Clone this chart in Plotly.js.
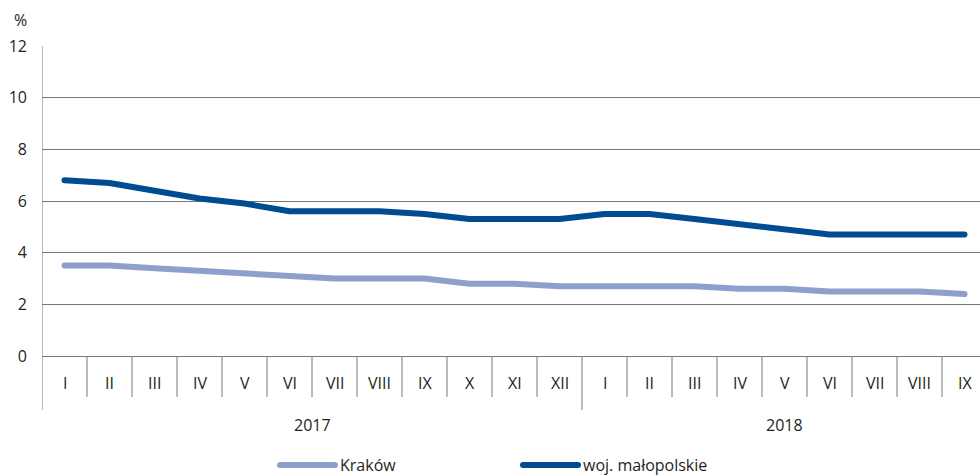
<!DOCTYPE html>
<html>
<head>
<meta charset="utf-8">
<script src="https://cdn.plot.ly/plotly-3.0.1.min.js"></script>
<style>
  html, body { margin: 0; padding: 0; background: #fff; }
  #chart { width: 980px; height: 475px; }
  .js-line, .legendlines path { stroke-linecap: round !important; stroke-linejoin: round !important; }
</style>
</head>
<body>
<div id="chart"></div>
<script>
const months = ["I","II","III","IV","V","VI","VII","VIII","IX","X","XI","XII",
                "I","II","III","IV","V","VI","VII","VIII","IX"];
const years = ["2017", "2018"];
const yearCounts = [12, 9];
const krakow = [3.5,3.5,3.4,3.3,3.2,3.1,3.0,3.0,3.0,2.8,2.8,2.7,
                2.7,2.7,2.7,2.6,2.6,2.5,2.5,2.5,2.4];
const malopolskie = [6.8,6.7,6.4,6.1,5.9,5.6,5.6,5.6,5.5,5.3,5.3,5.3,
                     5.5,5.5,5.3,5.1,4.9,4.7,4.7,4.7,4.7];
const seriesNames = ["Kraków", "woj. małopolskie"];
const yTicks = [0,2,4,6,8,10,12];

const W = 980, H = 475;
const mL = 42, mR = 0, mT = 46, mB = 119;
const plotH = H - mT - mB;
const plotW = W - mL - mR;
const catW = 45;
const idx = months.map((_, i) => i);
const px2py = p => (H - mB - p) / plotH;   // pixel y -> paper y

const textColor = "#231f20";
const gridColor = "#767676";
const font = { family: "Open Sans, sans-serif", size: 16, color: textColor };

const traces = [
  { x: idx, y: krakow, name: seriesNames[0], mode: "lines",
    line: { color: "#8e9fcc", width: 6 } },
  { x: idx, y: malopolskie, name: seriesNames[1], mode: "lines",
    line: { color: "#004c93", width: 6 } }
];

const shapes = [];
const annotations = [];
let boundaries = [0];
let acc = 0;
yearCounts.forEach(c => { acc += c; boundaries.push(acc); });
for (let i = 0; i <= months.length; i++) {
  const isYear = boundaries.includes(i) && i < months.length;
  shapes.push({ type: "line", xref: "x", yref: "paper",
    x0: i - 0.5, x1: i - 0.5, y0: i === 0 ? 1 : 0,
    y1: isYear ? px2py(410) : px2py(397),
    line: { color: gridColor, width: 1 }, layer: "below" });
}
months.forEach((m, i) => annotations.push({
  x: i, y: px2py(383), xref: "x", yref: "paper", text: m, showarrow: false,
  xanchor: "center", yanchor: "middle", font: font }));
let start = 0;
years.forEach((yr, k) => {
  const c = yearCounts[k];
  annotations.push({ x: start + (c - 1) / 2, y: px2py(425), xref: "x", yref: "paper",
    text: yr, showarrow: false, xanchor: "center", yanchor: "middle", font: font });
  start += c;
});
annotations.push({ x: (20 - mL) / plotW, y: px2py(20), xref: "paper", yref: "paper",
  text: "%", showarrow: false, xanchor: "center", yanchor: "middle", font: font });

const layout = {
  width: W, height: H,
  margin: { l: mL, r: mR, t: mT, b: mB, pad: 0, autoexpand: false },
  paper_bgcolor: "#fff", plot_bgcolor: "#fff",
  font: font,
  showlegend: true,
  legend: { orientation: "h", x: (275 - mL) / plotW, xanchor: "left",
            y: px2py(465), yanchor: "middle", entrywidth: 173, itemwidth: 55,
            font: font, bgcolor: "rgba(0,0,0,0)" },
  xaxis: { range: [-0.5, -0.5 + plotW / catW], showgrid: false, zeroline: false,
           showticklabels: false, ticks: "", showline: false, fixedrange: true },
  yaxis: { range: [0, 12], tickvals: yTicks, ticktext: yTicks.map(String),
           showgrid: true, gridcolor: gridColor, gridwidth: 1,
           zeroline: true, zerolinecolor: gridColor, zerolinewidth: 1,
           showline: false, ticks: "", ticklabelstandoff: 14, tickfont: font, fixedrange: true },
  shapes: shapes,
  annotations: annotations
};

Plotly.newPlot("chart", traces, layout, { displayModeBar: false, staticPlot: true });
</script>
</body>
</html>
